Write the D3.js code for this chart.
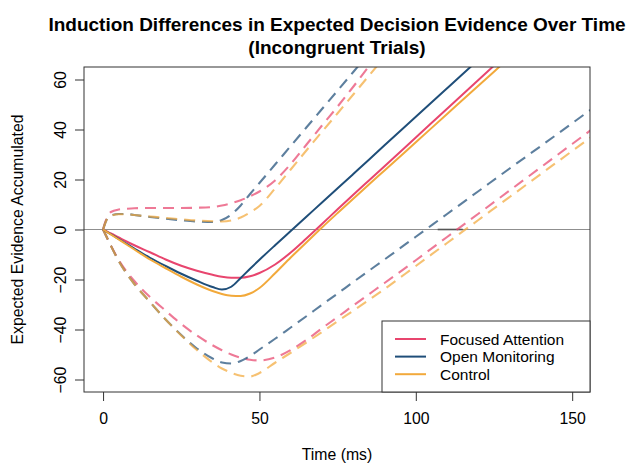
<!DOCTYPE html>
<html>
<head>
<meta charset="utf-8">
<script src="https://cdn.jsdelivr.net/npm/d3@7"></script>
<style>
  body { margin: 0; background: #fff; }
  svg text { font-family: "Liberation Sans", Arial, Helvetica, sans-serif; fill: #000; }
</style>
</head>
<body>
<div id="chart"></div>
<script>
// time grid (ms) shared by every series
const times = [0, 1, 2.5, 5, 7.5, 10, 15, 20, 25, 30, 35, 38, 41, 44, 47, 50, 55, 60, 65, 70, 75, 80, 85, 90, 100, 110, 120, 130, 140, 150, 157];

// expected evidence (solid)
const faMean = [0, -0.7, -1.6, -3.2, -4.8, -6.3, -9.1, -12.0, -14.5, -16.5, -18.1, -18.9, -19.3, -19.3, -18.7, -17.4, -14.0, -9.2, -3.6, 2.2, 8.1, 13.9, 19.6, 25.3, 36.8, 48.3, 59.8, 71.3, null, null, null];
const omMean = [0, -0.8, -1.9, -3.8, -5.7, -7.6, -11.3, -14.6, -17.7, -20.5, -23.0, -24.0, -22.9, -19.4, -15.7, -12.1, -6.3, -0.6, 5.1, 10.8, 16.5, 22.2, 27.9, 33.7, 45.1, 56.5, 67.9, null, null, null, null];
const ctMean = [0, -0.8, -2.0, -4.0, -6.0, -8.0, -12.0, -15.5, -18.9, -22.0, -24.6, -25.8, -26.5, -26.6, -25.6, -23.4, -17.5, -11.2, -5.2, 0.8, 6.6, 12.3, 18.0, 23.6, 34.9, 46.2, 57.5, 68.8, null, null, null];

// upper bounds (dashed)
const faUpper = [0, 4.0, 7.0, 8.0, 8.3, 8.5, 8.6, 8.6, 8.6, 8.7, 9.0, 9.6, 10.5, 11.7, 13.3, 15.2, 19.6, 26.2, 33.9, 41.6, 49.2, 57.1, 65.3, 73.5, null, null, null, null, null, null, null];
const omUpper = [0, 3.5, 5.5, 6.2, 6.2, 5.8, 5.0, 4.3, 3.7, 3.2, 3.0, 3.8, 6.0, 9.6, 14.2, 18.6, 26.0, 33.4, 40.8, 48.2, 55.6, 63.0, 70.4, null, null, null, null, null, null, null, null];
const ctUpper = [0, 3.5, 5.5, 6.1, 6.1, 5.8, 5.2, 4.6, 4.1, 3.6, 3.3, 3.2, 3.6, 4.8, 6.8, 9.4, 16.4, 24.0, 31.6, 39.1, 46.5, 54.0, 61.5, 69.0, null, null, null, null, null, null, null];

// lower bounds (dashed)
const faLower = [0, -2.6, -6.4, -12.2, -16.8, -20.6, -27.0, -32.5, -37.8, -42.4, -46.3, -48.3, -50.0, -51.3, -52.1, -52.4, -51.2, -48.2, -44.2, -39.5, -35.0, -30.4, -25.9, -21.4, -12.3, -3.0, 6.3, 15.6, 24.9, 34.2, 40.7];
const omLower = [0, -2.6, -6.5, -12.6, -17.6, -21.8, -29.0, -36.0, -42.2, -47.6, -51.6, -53.2, -53.6, -52.6, -50.6, -48.0, -43.7, -39.2, -34.7, -30.1, -25.6, -21.0, -16.5, -12.0, -2.9, 6.2, 15.3, 24.4, 33.4, 42.5, 48.9];
const ctLower = [0, -2.6, -6.5, -12.6, -17.6, -21.8, -29.0, -36.0, -42.4, -48.2, -53.2, -55.6, -57.3, -58.5, -58.8, -57.4, -53.3, -49.3, -45.2, -41.0, -36.7, -32.5, -28.2, -23.8, -14.6, -5.4, 3.8, 13.0, 22.2, 31.4, 37.8];

const groupNames = ['Focused Attention', 'Open Monitoring', 'Control'];
const groupColors = ['#E8456E', '#1F4E79', '#F2A93B'];

const xTicks = [0, 50, 100, 150];
const yTicks = [-60, -40, -20, 0, 20, 40, 60];
const zeroMark = [107, 115]; // darker stretch on the zero line

const W = 631, H = 465;
const plot = { left: 84, right: 590, top: 67, bottom: 392 };
const fs = 15.8;

const groups = groupNames.map((name, i) => ({
  name,
  color: groupColors[i],
  mean: [faMean, omMean, ctMean][i],
  upper: [faUpper, omUpper, ctUpper][i],
  lower: [faLower, omLower, ctLower][i]
}));

const svg = d3.select('#chart').append('svg').attr('width', W).attr('height', H);

const x = d3.scaleLinear().domain([-6.1, 155.7]).range([plot.left, plot.right]);
const y = d3.scaleLinear().domain([-65, 65]).range([plot.bottom, plot.top]);

svg.append('defs').append('clipPath').attr('id', 'plotClip')
  .append('rect')
  .attr('x', plot.left).attr('y', plot.top)
  .attr('width', plot.right - plot.left).attr('height', plot.bottom - plot.top);

// zero reference line
svg.append('line')
  .attr('x1', plot.left).attr('x2', plot.right)
  .attr('y1', y(0)).attr('y2', y(0))
  .attr('stroke', '#8f8f8f').attr('stroke-width', 1);
svg.append('line')
  .attr('x1', x(zeroMark[0])).attr('x2', x(zeroMark[1]))
  .attr('y1', y(0)).attr('y2', y(0))
  .attr('stroke', '#555').attr('stroke-width', 1.6);

const line = d3.line()
  .defined(d => d[1] != null)
  .x(d => x(d[0]))
  .y(d => y(d[1]))
  .curve(d3.curveMonotoneX);

const pts = vals => times.map((t, i) => [t, vals[i]]);

const curvesG = svg.append('g').attr('clip-path', 'url(#plotClip)');

// dashed bounds first, means on top
groups.forEach(g => {
  [g.upper, g.lower].forEach(vals => {
    curvesG.append('path')
      .attr('d', line(pts(vals)))
      .attr('fill', 'none')
      .attr('stroke', g.color)
      .attr('stroke-opacity', 0.72)
      .attr('stroke-width', 2.1)
      .attr('stroke-dasharray', '11,7');
  });
});
groups.forEach(g => {
  curvesG.append('path')
    .attr('d', line(pts(g.mean)))
    .attr('fill', 'none')
    .attr('stroke', g.color)
    .attr('stroke-width', 2);
});

// axes
const xAxis = svg.append('g')
  .attr('transform', `translate(0,${plot.bottom})`)
  .call(d3.axisBottom(x).tickValues(xTicks).tickSize(9).tickPadding(12).tickFormat(d3.format('d')));
xAxis.attr('font-size', fs).attr('font-family', null);
xAxis.select('.domain').remove();
xAxis.selectAll('line').attr('stroke', '#333');

const yAxis = svg.append('g')
  .attr('transform', `translate(${plot.left},0)`)
  .call(d3.axisLeft(y).tickValues(yTicks).tickSize(9).tickFormat(d3.format('d')));
yAxis.attr('font-size', fs).attr('font-family', null);
yAxis.select('.domain').remove();
yAxis.selectAll('line').attr('stroke', '#333');
yAxis.selectAll('text')
  .attr('transform', 'rotate(-90)')
  .attr('x', 0).attr('y', -18.5).attr('dy', 0)
  .attr('text-anchor', 'middle');

// plot frame
svg.append('rect')
  .attr('x', plot.left).attr('y', plot.top)
  .attr('width', plot.right - plot.left).attr('height', plot.bottom - plot.top)
  .attr('fill', 'none').attr('stroke', '#333').attr('stroke-width', 1);

// titles
const cx = (plot.left + plot.right) / 2;
svg.append('text').attr('x', cx).attr('y', 31).attr('text-anchor', 'middle')
  .attr('font-size', 19).attr('font-weight', 'bold')
  .text('Induction Differences in Expected Decision Evidence Over Time');
svg.append('text').attr('x', cx).attr('y', 53.5).attr('text-anchor', 'middle')
  .attr('font-size', 19).attr('font-weight', 'bold')
  .text('(Incongruent Trials)');

svg.append('text').attr('x', cx).attr('y', 459.5).attr('text-anchor', 'middle')
  .attr('font-size', fs).text('Time (ms)');

svg.append('text')
  .attr('transform', `translate(22.5,${(plot.top + plot.bottom) / 2}) rotate(-90)`)
  .attr('text-anchor', 'middle')
  .attr('font-size', fs).text('Expected Evidence Accumulated');

// legend (bottom right)
const lg = { left: 382, top: 321 };
svg.append('rect')
  .attr('x', lg.left).attr('y', lg.top)
  .attr('width', plot.right - lg.left).attr('height', plot.bottom - lg.top)
  .attr('fill', '#fff').attr('stroke', '#333').attr('stroke-width', 1);

const rows = svg.append('g').selectAll('g')
  .data(groups)
  .join('g')
  .attr('transform', (d, i) => `translate(0,${339 + i * 17.6})`);
rows.append('line')
  .attr('x1', 395).attr('x2', 426).attr('y1', 0).attr('y2', 0)
  .attr('stroke', d => d.color).attr('stroke-width', 2);
rows.append('text')
  .attr('x', 440).attr('y', 5.5)
  .attr('font-size', 15.5)
  .text(d => d.name);
</script>
</body>
</html>
